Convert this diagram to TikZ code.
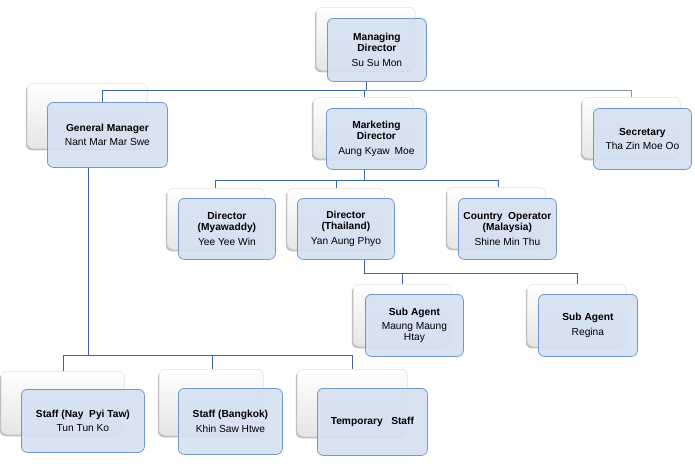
\documentclass[tikz,border=0pt]{standalone}
\usepackage{fontspec}
\setmainfont{Liberation Sans}
\usetikzlibrary{shadows}
\pgfdeclarelayer{back}
\pgfdeclarelayer{mid}
\pgfsetlayers{back,mid,main}
\definecolor{bfill}{RGB}{213,225,242}
\definecolor{bdraw}{RGB}{115,152,200}
\definecolor{cdark}{RGB}{62,102,165}
\definecolor{cgrey}{RGB}{140,155,178}
\tikzset{
  wbox/.style={rounded corners=6pt, draw=black!12, line width=0.5pt,
    top color=white, bottom color=black!10,
    drop shadow={shadow xshift=-1.5pt, shadow yshift=-2pt, fill=black!55, opacity=0.45},
    inner sep=0pt},
  bbox/.style={rounded corners=6pt, draw=bdraw, line width=0.8pt, fill=bfill,
    fill opacity=0.9, text opacity=1, inner sep=1pt, align=center,
    font=\fontsize{10.2}{11.2}\selectfont},
  conn/.style={draw=cdark, line width=0.8pt},
  conng/.style={draw=cgrey, line width=0.8pt}
}
\newcommand{\tb}[1]{\textbf{#1}}
\newcommand{\orgu}[8]{%
  \begin{pgfonlayer}{back}
  \node[wbox, minimum width=#4pt, minimum height=#5pt, anchor=north west] (#1w) at (#2,#3) {};
  \end{pgfonlayer}
  \node[bbox, minimum width=#4pt, minimum height=#5pt, anchor=north west] (#1) at ({#2+#6},{#3+#7}) {#8};
}
\begin{document}
\begin{tikzpicture}[x=1pt,y=-1pt]
\useasboundingbox (0,0) rectangle (695,469);
\orgu{md}{316}{7}{99}{63}{11}{11}{\tb{Managing}\\\tb{Director}\\[3.5pt]Su Su Mon}
\orgu{gm}{27}{83}{120}{65}{20}{19}{\tb{General Manager}\\[3.5pt]Nant Mar Mar Swe}
\orgu{mk}{313}{97}{100}{61}{13}{11}{\tb{Marketing}\\\tb{Director}\\[3.5pt]Aung Kyaw\hspace{2pt} Moe}
\orgu{sec}{582}{97}{98}{61}{11}{11}{\tb{Secretary}\\[3.5pt]Tha Zin Moe Oo}
\orgu{mya}{167}{188}{97}{61}{11}{10}{\tb{Director}\\\tb{(Myawaddy)}\\[3.5pt]Yee Yee Win}
\orgu{th}{287}{188}{97}{61}{10}{10}{\tb{Director}\\\tb{(Thailand)}\\[3.5pt]Yan Aung Phyo}
\orgu{co}{447}{187}{98}{61}{11}{11}{\tb{Country\ \ Operator}\\\tb{(Malaysia)}\\[3.5pt]Shine Min Thu}
\orgu{sa1}{353}{284}{98}{62}{12}{10}{\tb{Sub Agent}\\[3pt]Maung Maung\\Htay}
\orgu{sa2}{527}{284}{99}{62}{11}{10}{\tb{Sub Agent}\\[3.5pt]Regina}
\orgu{s1}{1}{371}{123}{63}{20}{18}{\tb{Staff (Nay\ \ Pyi Taw)}\\[3.5pt]Tun Tun Ko}
\orgu{s2}{159}{369}{104}{66}{19}{19}{\tb{Staff (Bangkok)}\\[3.5pt]Khin Saw Htwe}
\orgu{s3}{297}{369}{110}{67}{20}{19}{\tb{Temporary\ \ \ Staff}}
\begin{pgfonlayer}{mid}
% top level
\coordinate (jMD) at (366,90);
\coordinate (jGM) at (102,90);
\coordinate (jSec) at (631,90);
\coordinate (jMk) at (364,90);
\draw[conn] (jMD |- md.south) -- (jMD);
\draw[conn] (jGM |- gm.north) -- (jGM) -- (jMD);
\draw[conng] (jMD) -- (jSec) -- (jSec |- secw.north);
\draw[conn] (jMk) -- (jMk |- mkw.north);
% marketing director children
\coordinate (jMk2) at (364,180);
\coordinate (jMya) at (215,180);
\coordinate (jTh) at (336,180);
\coordinate (jCO) at (498,180);
\draw[conn] (jMk2 |- mk.south) -- (jMk2);
\draw[conn] (jMya |- myaw.north) -- (jMya) -- (jCO) -- (jCO |- cow.north);
\draw[conn] (jTh) -- (jTh |- thw.north);
% thailand children
\coordinate (jTh2) at (364,273);
\coordinate (jSA1) at (402,273);
\coordinate (jSA2) at (577,273);
\draw[conn] (jTh2 |- th.south) -- (jTh2) -- (jSA2) -- (jSA2 |- sa2w.north);
\draw[conn] (jSA1) -- (jSA1 |- sa1w.north);
% general manager children
\coordinate (jGM2) at (88,355);
\coordinate (jS1) at (63,355);
\coordinate (jS2) at (212,355);
\coordinate (jS3) at (352,355);
\draw[conn] (jGM2 |- gm.south) -- (jGM2);
\draw[conn] (jS1 |- s1w.north) -- (jS1) -- (jS3) -- (jS3 |- s3w.north);
\draw[conn] (jS2) -- (jS2 |- s2w.north);
\end{pgfonlayer}
\end{tikzpicture}
\end{document}
